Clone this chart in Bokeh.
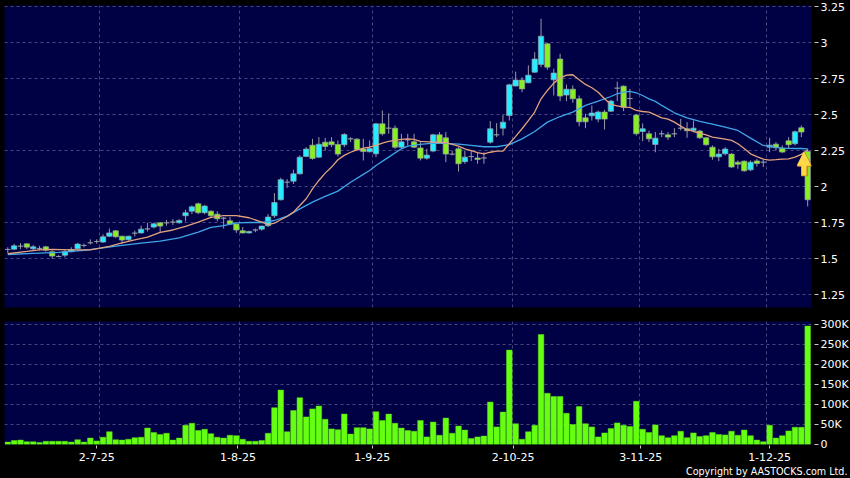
from bokeh.embed import file_html
from bokeh.resources import INLINE
from bokeh.plotting import figure
from bokeh.layouts import column
from bokeh.models import FixedTicker, Title, Arrow, NormalHead, Range1d, ColumnDataSource

opens = [1.565,1.567,1.588,1.604,1.569,1.572,1.583,1.549,1.516,1.525,1.549,1.569,1.593,1.611,1.62,1.616,1.657,1.694,1.657,1.632,
 1.678,1.68,1.708,1.72,1.75,1.75,1.755,1.75,1.799,1.831,1.882,1.82,1.831,1.81,1.782,1.764,1.741,1.695,1.68,1.70,
 1.706,1.73,1.799,1.91,2.032,2.039,2.09,2.211,2.289,2.206,2.31,2.312,2.294,2.292,2.333,2.331,2.262,2.243,2.229,2.4375,
 2.407,2.407,2.275,2.326,2.3125,2.27,2.199,2.248,2.361,2.34,2.227,2.264,2.174,2.21,2.2,2.2,2.31,2.361,2.407,2.495,
 2.70,2.741,2.722,2.796,2.85,2.993,2.743,2.887,2.637,2.678,2.611,2.479,2.493,2.47,2.519,2.525,2.685,2.699,2.613,2.498,
 2.384,2.368,2.294,2.368,2.361,2.368,2.407,2.403,2.391,2.387,2.34,2.275,2.208,2.229,2.227,2.171,2.178,2.118,2.18,2.171,
 2.275,2.296,2.268,2.319,2.299,2.41,2.245]
closes = [1.565,1.59,1.588,1.581,1.583,1.572,1.56,1.519,1.516,1.551,1.565,1.602,1.593,1.611,1.62,1.653,1.68,1.653,1.63,1.657,
 1.678,1.706,1.708,1.743,1.727,1.75,1.755,1.766,1.82,1.861,1.82,1.866,1.799,1.778,1.782,1.741,1.70,1.68,1.69,1.70,
 1.727,1.79,1.891,2.049,2.032,2.09,2.206,2.262,2.197,2.296,2.28,2.292,2.227,2.363,2.333,2.259,2.245,2.266,2.4375,2.368,
 2.407,2.275,2.3125,2.326,2.275,2.199,2.22,2.361,2.31,2.227,2.227,2.16,2.206,2.21,2.19,2.2,2.403,2.361,2.449,2.708,
 2.741,2.68,2.775,2.887,3.046,2.831,2.79,2.63,2.678,2.611,2.451,2.451,2.512,2.519,2.47,2.595,2.685,2.553,2.613,2.368,
 2.403,2.333,2.338,2.368,2.345,2.368,2.407,2.389,2.407,2.34,2.292,2.208,2.227,2.262,2.137,2.157,2.111,2.171,2.162,2.171,
 2.289,2.271,2.241,2.292,2.382,2.38,1.91]
highs = [1.58,1.604,1.609,1.606,1.595,1.59,1.59,1.558,1.525,1.56,1.58,1.61,1.605,1.635,1.635,1.67,1.71,1.70,1.66,1.66,
 1.695,1.73,1.75,1.75,1.755,1.77,1.775,1.775,1.84,1.87,1.89,1.875,1.836,1.83,1.79,1.79,1.745,1.72,1.695,1.71,
 1.73,1.81,1.956,2.063,2.053,2.118,2.218,2.275,2.333,2.345,2.34,2.345,2.322,2.373,2.345,2.338,2.333,2.322,2.442,2.53,
 2.51,2.426,2.368,2.368,2.368,2.31,2.264,2.368,2.38,2.38,2.252,2.275,2.252,2.252,2.24,2.24,2.456,2.442,2.5,2.715,
 2.80,2.76,2.843,2.935,3.167,2.998,2.82,2.924,2.71,2.704,2.634,2.507,2.565,2.53,2.535,2.604,2.73,2.704,2.68,2.507,
 2.44,2.39,2.38,2.391,2.38,2.407,2.472,2.449,2.46,2.396,2.345,2.287,2.264,2.275,2.234,2.183,2.183,2.183,2.194,2.188,
 2.34,2.31,2.287,2.345,2.391,2.426,2.264]
lows = [1.539,1.563,1.567,1.567,1.56,1.558,1.55,1.50,1.51,1.51,1.545,1.565,1.58,1.60,1.605,1.61,1.65,1.645,1.605,1.625,
 1.655,1.675,1.69,1.71,1.68,1.73,1.735,1.745,1.76,1.81,1.81,1.81,1.79,1.76,1.71,1.735,1.68,1.675,1.675,1.685,
 1.695,1.72,1.785,1.905,1.993,2.02,2.086,2.206,2.188,2.20,2.252,2.275,2.21,2.275,2.31,2.25,2.183,2.24,2.206,2.356,
 2.368,2.264,2.27,2.287,2.27,2.183,2.188,2.24,2.30,2.171,2.218,2.106,2.16,2.178,2.16,2.16,2.30,2.345,2.356,2.46,
 2.697,2.657,2.72,2.79,2.83,2.8125,2.634,2.595,2.595,2.583,2.42,2.407,2.46,2.449,2.398,2.52,2.595,2.525,2.558,2.356,
 2.317,2.31,2.24,2.345,2.326,2.345,2.391,2.34,2.38,2.333,2.285,2.188,2.178,2.218,2.132,2.125,2.104,2.109,2.141,2.137,
 2.24,2.252,2.234,2.264,2.287,2.345,1.863]
volumes = [6,10,11,7,7,5,8,8,8,8,6,12,6,16,9,18,32,12,11,13,17,18,41,30,25,28,11,16,48,53,35,38,27,18,16,23,22,13,8,8,
 10,28,92,136,32,85,117,69,89,96,63,39,37,76,26,42,42,39,82,60,76,53,41,35,33,60,19,56,23,66,28,46,36,15,19,21,106,44,81,236,
 52,13,32,48,275,128,120,120,78,50,95,52,44,19,29,40,54,48,45,108,38,30,49,22,17,22,33,17,29,20,22,30,25,24,33,23,36,22,11,7,
 48,16,22,34,43,43,296]

ma10_i = [0,3,5,7,10,13,16,18,20,22,24,26,28,30,32,34,36,38,40,41,42,43,44,45,46,47,48,49,50,51,52,53,54,55,56,57,58,59,60,61,62,63,64,65,67,69,71,72,73,74,75,76,77,78,79,80,81,82,83,84,85,86,87,88,89,90,91,92,93,94,95,96,97,98,99,100,101,102,103,104,105,106,107,108,109,110,111,112,113,114,115,116,117,118,119,120,121,122,123,124,125,126]
ma10_v = [1.535,1.551,1.5625,1.565,1.5625,1.5625,1.586,1.611,1.632,1.65,1.683,1.70,1.725,1.755,1.787,1.80,1.80,1.785,1.755,1.738,1.748,1.771,1.794,1.824,1.87,1.917,1.986,2.044,2.095,2.137,2.188,2.218,2.24,2.257,2.269,2.275,2.287,2.303,2.315,2.322,2.329,2.333,2.329,2.315,2.31,2.306,2.282,2.264,2.252,2.238,2.229,2.24,2.248,2.248,2.299,2.35,2.403,2.46,2.519,2.611,2.669,2.72,2.755,2.775,2.778,2.743,2.711,2.688,2.657,2.611,2.572,2.5625,2.553,2.551,2.53,2.523,2.519,2.5,2.479,2.47,2.449,2.421,2.398,2.384,2.373,2.361,2.345,2.338,2.331,2.322,2.299,2.266,2.229,2.21,2.192,2.185,2.188,2.192,2.194,2.206,2.225,2.257]
ma20_i = [0,4,8,12,15,18,21,24,27,30,32,34,36,38,40,42,44,46,48,50,52,54,56,57,58,60,62,63,65,67,69,71,73,75,77,79,81,83,85,87,89,91,93,95,96,97,98,99,100,101,102,103,105,107,109,111,113,115,117,119,120,122,124,125,126]
ma20_v = [1.53,1.537,1.544,1.558,1.576,1.593,1.609,1.623,1.646,1.685,1.718,1.731,1.75,1.752,1.752,1.766,1.796,1.847,1.894,1.933,1.97,2.032,2.086,2.113,2.148,2.206,2.264,2.282,2.294,2.303,2.301,2.296,2.287,2.278,2.278,2.293,2.333,2.384,2.449,2.488,2.519,2.565,2.595,2.627,2.646,2.657,2.662,2.653,2.634,2.611,2.593,2.565,2.514,2.479,2.454,2.435,2.414,2.391,2.338,2.287,2.28,2.269,2.266,2.266,2.264]

price_ticks = [3.25,3,2.75,2.5,2.25,2,1.75,1.5,1.25]
price_labels = ["3.25","3","2.75","2.5","2.25","2","1.75","1.5","1.25"]
vol_ticks = [0,50,100,150,200,250,300]
vol_labels = ["0","50K","100K","150K","200K","250K","300K"]
date_ticks = [14,36.25,57.4,79.6,99.7,120]
date_labels = ["2-7-25","1-8-25","1-9-25","2-10-25","3-11-25","1-12-25"]
month_grid = [14.5,36.5,57.5,79.5,99.5,119.5]
arrow_x, arrow_tip, arrow_base = 125.4, 2.24, 2.074

BG = "#000000"
PANEL = "#000044"
GRID = "#46467e"
WICK = "#9a9aa6"
EDGE = "#9aa0a8"
UP = "#22eeff"
DOWN = "#88f020"
VOL = "#66ff12"
FONT = "DejaVu Sans"
X0, X1 = -0.52, 126.6

def base(height, top, bottom, frame_h, yr, yt, yl):
    p = figure(width=850, height=height, output_backend="svg", toolbar_location=None,
               x_range=Range1d(X0, X1), y_range=Range1d(*yr), y_axis_location="right",
               min_border_left=4, min_border_right=39, min_border_top=top, min_border_bottom=bottom,
               frame_height=frame_h, frame_width=807,
               background_fill_color=PANEL, border_fill_color=BG,
               outline_line_color=None,
               styles={"background-color": BG})
    p.xgrid.ticker = FixedTicker(ticks=month_grid)
    p.ygrid.ticker = FixedTicker(ticks=yt)
    for g in (p.xgrid[0], p.ygrid[0]):
        g.grid_line_color = GRID
        g.grid_line_dash = "3 3"
        g.grid_line_width = 1
    ax = p.yaxis[0]
    ax.ticker = FixedTicker(ticks=yt)
    ax.major_label_overrides = dict(zip(yt, yl))
    ax.axis_line_color = None
    ax.major_tick_line_color = "#c8c8c8"
    ax.major_tick_in = -3
    ax.major_tick_out = 7
    ax.minor_tick_line_color = None
    ax.major_label_text_color = "#ffffff"
    ax.major_label_text_font = FONT
    ax.major_label_text_font_size = "11px"
    ax.major_label_standoff = 2
    return p

p1 = base(314, 5, 7, 302, (1.1618, 3.259), price_ticks, price_labels)
p1.xaxis.visible = False

idx = list(range(len(opens)))
src = ColumnDataSource(dict(
    x=idx, h=highs, l=lows,
    top=[max(o, c) for o, c in zip(opens, closes)],
    bot=[min(o, c) for o, c in zip(opens, closes)],
    col=[UP if c > o else DOWN for o, c in zip(opens, closes)],
))
p1.segment("x", "h", "x", "l", source=src, line_color=WICK, line_width=1)
p1.vbar(x="x", top="top", bottom="bot", width=0.84, source=src, fill_color="col", line_color=EDGE, line_width=0.7)
p1.line(ma20_i, ma20_v, line_color="#3fa6e6", line_width=1.3)
p1.line(ma10_i, ma10_v, line_color="#e2a27c", line_width=1.3)

shadow = Arrow(x_start=arrow_x + 0.12, y_start=arrow_base, x_end=arrow_x + 0.12, y_end=arrow_tip,
               line_color="#c98a10", line_width=7,
               end=NormalHead(size=14, fill_color="#c98a10", line_color="#c98a10", line_width=1))
arrow = Arrow(x_start=arrow_x, y_start=arrow_base + 0.004, x_end=arrow_x, y_end=arrow_tip,
              line_color="#ffd84a", line_width=5,
              end=NormalHead(size=13, fill_color="#ffd84a", line_color="#ffd84a", line_width=1))
p1.add_layout(shadow)
p1.add_layout(arrow)

p2 = base(164, 7, 34, 123, (0, 307.5), vol_ticks, vol_labels)
p2.vbar(x=idx, top=volumes, bottom=0, width=0.88, fill_color=VOL, line_color="#55dd10", line_width=0.5)
xa = p2.xaxis[0]
xa.ticker = FixedTicker(ticks=date_ticks)
xa.major_label_overrides = dict(zip(date_ticks, date_labels))
xa.axis_line_color = None
xa.major_tick_line_color = "#c8c8c8"
xa.major_tick_in = -1
xa.major_tick_out = 4
xa.minor_tick_line_color = None
xa.major_label_text_color = "#ffffff"
xa.major_label_text_font = FONT
xa.major_label_text_font_size = "11px"
xa.major_label_standoff = 4
p2.add_layout(Title(text="Copyright by AASTOCKS.com Ltd.", align="right", offset=-36, standoff=0,
                    text_color="#ffffff", text_font=FONT, text_font_size="9.6px", text_font_style="normal"), "below")

page = column(p1, p2, spacing=0, styles={"background-color": BG})
open("out.html", "w").write(file_html(page, INLINE))
